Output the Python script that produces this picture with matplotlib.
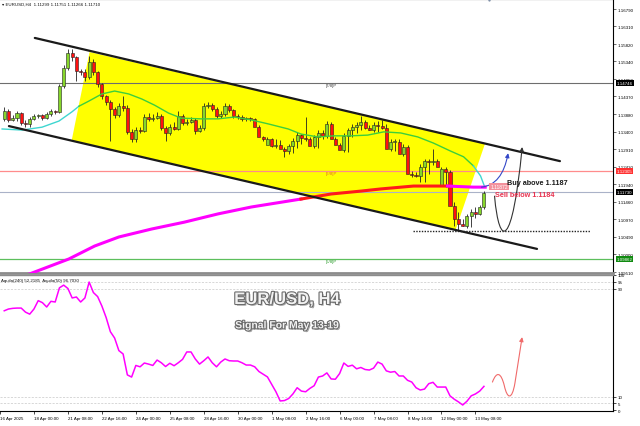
import matplotlib
matplotlib.use("Agg")
import matplotlib.pyplot as plt
from matplotlib.path import Path
from matplotlib.patches import FancyArrowPatch, Polygon
import matplotlib.patheffects as pe

# ---- data (bar index 0 = 18 Apr 00:00, H4 bars) ----
bar_idx = list(range(-7, 107))

opens = [1.1375, 1.1397, 1.1372, 1.1377, 1.1391, 1.1364, 1.1361, 1.1375, 1.1383, 1.1386,
         1.1377, 1.1388, 1.1397, 1.1394, 1.1466, 1.1516, 1.1557, 1.1546, 1.1507, 1.1505,
         1.1491, 1.1532, 1.1505, 1.1471, 1.1438, 1.1422, 1.1402, 1.1386, 1.1410, 1.1405,
         1.1339, 1.1319, 1.1344, 1.1341, 1.1380, 1.1375, 1.1377, 1.1383, 1.1350, 1.1336,
         1.1352, 1.1347, 1.1383, 1.1364, 1.1366, 1.1372, 1.1341, 1.1350, 1.1410, 1.1413,
         1.1402, 1.1383, 1.1388, 1.1410, 1.1399, 1.1383, 1.1380, 1.1375, 1.1377, 1.1375,
         1.1352, 1.1325, 1.1303, 1.1319, 1.1300, 1.1303, 1.1292, 1.1286, 1.1300, 1.1314,
         1.1330, 1.1322, 1.1319, 1.1300, 1.1325, 1.1336, 1.1328, 1.1361, 1.1319, 1.1303,
         1.1289, 1.1328, 1.1344, 1.1352, 1.1358, 1.1366, 1.1350, 1.1344, 1.1358, 1.1355,
         1.1350, 1.1292, 1.1311, 1.1311, 1.1278, 1.1297, 1.1222, 1.1220, 1.1217, 1.1242,
         1.1259, 1.1256, 1.1259, 1.1189, 1.1236, 1.1228, 1.1134, 1.1098, 1.1084, 1.1078,
         1.1106, 1.1117, 1.1112, 1.11299]
highs = [1.1408, 1.1402, 1.1386, 1.1397, 1.1394, 1.1372, 1.1380, 1.1388, 1.1388, 1.1388,
         1.1394, 1.1402, 1.1399, 1.1471, 1.1524, 1.1568, 1.1568, 1.1549, 1.1513, 1.1513,
         1.1549, 1.1541, 1.1507, 1.1474, 1.1441, 1.1427, 1.1408, 1.1419, 1.1438, 1.1413,
         1.1347, 1.1352, 1.1352, 1.1388, 1.1391, 1.1388, 1.1394, 1.1388, 1.1355, 1.1361,
         1.1366, 1.1397, 1.1388, 1.1375, 1.1380, 1.1377, 1.1358, 1.1419, 1.1422, 1.1419,
         1.1408, 1.1397, 1.1419, 1.1416, 1.1402, 1.1388, 1.1386, 1.1380, 1.1380, 1.1377,
         1.1358, 1.1328, 1.1325, 1.1322, 1.1319, 1.1316, 1.1297, 1.1305, 1.1322, 1.1339,
         1.1333, 1.1380, 1.1325, 1.1330, 1.1344, 1.1344, 1.1369, 1.1366, 1.1325, 1.1308,
         1.1336, 1.1350, 1.1361, 1.1366, 1.1383, 1.1372, 1.1358, 1.1366, 1.1369, 1.1372,
         1.1361, 1.1319, 1.1319, 1.1319, 1.1305, 1.1303, 1.1231, 1.1228, 1.1250, 1.1264,
         1.1264, 1.1292, 1.1264, 1.1242, 1.1242, 1.1233, 1.1145, 1.1117, 1.1098, 1.1112,
         1.1125, 1.1131, 1.1137, 1.11751]
lows = [1.1369, 1.1366, 1.1369, 1.1369, 1.1358, 1.1352, 1.1352, 1.1372, 1.1377, 1.1372,
        1.1375, 1.1383, 1.1388, 1.1391, 1.1460, 1.1510, 1.1535, 1.1480, 1.1496, 1.1480,
        1.1485, 1.1496, 1.1463, 1.1430, 1.1413, 1.1314, 1.1377, 1.1380, 1.1397, 1.1333,
        1.1311, 1.1311, 1.1336, 1.1339, 1.1369, 1.1369, 1.1375, 1.1344, 1.1314, 1.1330,
        1.1344, 1.1344, 1.1358, 1.1358, 1.1364, 1.1333, 1.1339, 1.1344, 1.1405, 1.1397,
        1.1377, 1.1377, 1.1383, 1.1394, 1.1377, 1.1375, 1.1369, 1.1369, 1.1369, 1.1369,
        1.1328, 1.1314, 1.1314, 1.1297, 1.1294, 1.1294, 1.1270, 1.1278, 1.1281, 1.1294,
        1.1305, 1.1314, 1.1314, 1.1294, 1.1294, 1.1319, 1.1322, 1.1325, 1.1314, 1.1297,
        1.1283, 1.1283, 1.1325, 1.1336, 1.1344, 1.1347, 1.1344, 1.1339, 1.1339, 1.1347,
        1.1341, 1.1286, 1.1286, 1.1303, 1.1272, 1.1272, 1.1214, 1.1214, 1.1200, 1.1200,
        1.1222, 1.1247, 1.1247, 1.1236, 1.1187, 1.1222, 1.1078, 1.1065, 1.1078, 1.1073,
        1.1076, 1.1101, 1.1109, 1.11266]
closes = [1.1397, 1.1372, 1.1377, 1.1391, 1.1364, 1.1361, 1.1375, 1.1383, 1.1386, 1.1377,
          1.1388, 1.1397, 1.1394, 1.1466, 1.1516, 1.1557, 1.1546, 1.1507, 1.1505, 1.1491,
          1.1532, 1.1505, 1.1471, 1.1438, 1.1422, 1.1402, 1.1386, 1.1410, 1.1405, 1.1339,
          1.1319, 1.1344, 1.1341, 1.1380, 1.1375, 1.1377, 1.1383, 1.1350, 1.1336, 1.1352,
          1.1347, 1.1383, 1.1364, 1.1366, 1.1372, 1.1341, 1.1350, 1.1410, 1.1413, 1.1402,
          1.1383, 1.1388, 1.1410, 1.1399, 1.1383, 1.1380, 1.1375, 1.1377, 1.1375, 1.1352,
          1.1325, 1.1319, 1.1319, 1.1300, 1.1303, 1.1292, 1.1286, 1.1300, 1.1314, 1.1330,
          1.1322, 1.1319, 1.1300, 1.1325, 1.1336, 1.1328, 1.1361, 1.1319, 1.1303, 1.1289,
          1.1328, 1.1344, 1.1352, 1.1358, 1.1366, 1.1350, 1.1344, 1.1358, 1.1355, 1.1350,
          1.1292, 1.1311, 1.1313, 1.1278, 1.1297, 1.1222, 1.1220, 1.1217, 1.1242, 1.1259,
          1.1256, 1.1259, 1.1242, 1.1236, 1.1228, 1.1134, 1.1098, 1.1084, 1.1078, 1.1106,
          1.1117, 1.1112, 1.1131, 1.11710]

# moving averages (bar index, price)
ma20_idx = [-7.5, -2.8, 1.9, 5.9, 8.9, 10.6, 12.9, 16.0, 19.0, 22.3, 25.4, 28.4, 31.7, 34.7,
            39.4, 43.4, 47.2, 51.2, 55.2, 59.9, 62.9, 66.9, 70.7, 74.6, 78.6, 82.4, 86.4,
            90.4, 94.1, 98.1, 101.2, 103.5, 105.2, 106.1]
ma20_val = [1.1347, 1.1344, 1.1352, 1.1369, 1.1394, 1.1410, 1.1424, 1.1444, 1.1452, 1.1444,
            1.1430, 1.1413, 1.1391, 1.1377, 1.1375, 1.1375, 1.1380, 1.1372, 1.1361, 1.1347,
            1.1333, 1.1325, 1.1328, 1.1328, 1.1330, 1.1339, 1.1336, 1.1325, 1.1308, 1.1286,
            1.1270, 1.1245, 1.1217, 1.1189]
ma200_idx = [-7.5, -1.2, 8.2, 14.3, 20.0, 27.7, 35.4, 43.4, 51.2, 62.9, 70.0, 77.0, 81.7,
             89.4, 97.4, 103.5, 106.3]
ma200_val = [1.0915, 1.0945, 1.0987, 1.1023, 1.1048, 1.1070, 1.1089, 1.1112, 1.1131, 1.1153,
             1.1167, 1.1175, 1.1181, 1.1189, 1.1189, 1.1186, 1.1186]

# Aquila oscillator, one value per bar
aquila = [73.5, 74.8, 75.3, 75.5, 75.5, 72.5, 71.0, 74.8, 81.0, 79.5, 76.3, 80.5, 80.0, 90.5,
          92.5, 90.0, 83.0, 83.7, 80.0, 83.0, 94.8, 87.0, 84.0, 77.0, 68.5, 58.0, 53.3, 44.0,
          41.5, 26.0, 24.4, 33.0, 32.0, 34.8, 34.0, 33.0, 37.0, 35.0, 32.2, 34.6, 32.8, 35.0,
          37.5, 43.0, 43.0, 37.8, 34.0, 36.5, 39.3, 35.0, 32.0, 35.5, 37.8, 36.5, 36.3, 36.3,
          35.0, 33.3, 33.3, 32.0, 28.5, 26.5, 24.5, 19.0, 13.5, 6.7, 7.0, 8.5, 11.9, 16.5,
          14.0, 13.5, 16.0, 18.0, 24.4, 25.2, 27.5, 23.0, 22.8, 27.0, 34.8, 32.3, 33.2, 30.5,
          31.5, 30.0, 29.6, 31.0, 35.5, 34.0, 29.0, 28.0, 28.5, 25.2, 25.2, 22.0, 20.7, 16.5,
          14.8, 15.5, 19.5, 20.5, 17.0, 17.0, 17.0, 10.5, 8.0, 6.0, 3.7, 6.5, 10.5, 11.9,
          14.0, 17.5]

# Murrey levels and price markers
level_78, level_68, level_58 = 1.14746, 1.12305, 1.09862
bid_price = 1.11730
ma_label = 1.11872
support = 1.10646
upper_channel = [(0.2, 1.1599), (123.9, 1.1258)]
lower_channel = [(-5.9, 1.1355), (118.5, 1.1015)]
yellow_zone = [(13.1, 1.1560), (8.9, 1.1316), (99.3, 1.1067), (106.3, 1.1308)]

price_ticks = [1.16790, 1.16310, 1.15820, 1.15340, 1.14850, 1.14370, 1.13880, 1.13400,
               1.12910, 1.12420, 1.11940, 1.11460, 1.10970, 1.10490, 1.10000, 1.09510]
time_ticks = [-8, 0, 8, 16, 24, 32, 40, 48, 56, 64, 72, 80, 88, 96, 104]
time_labels = ["16 Apr 2025", "18 Apr 00:00", "21 Apr 08:00", "22 Apr 16:00", "24 Apr 00:00",
               "25 Apr 08:00", "28 Apr 16:00", "30 Apr 00:00", "1 May 08:00", "2 May 16:00",
               "6 May 00:00", "7 May 08:00", "8 May 16:00", "12 May 00:00", "13 May 08:00"]

SMALL = ["Liberation Sans", "DejaVu Sans"]
fs = 3.2

fig = plt.figure(figsize=(6.4, 4.27), dpi=100)
ax = fig.add_axes([0, 1 - 274 / 427, 613 / 640, 274 / 427])
ax2 = fig.add_axes([0, 1 - 412 / 427, 613 / 640, 136 / 427], sharex=ax)

xmin, xmax = -7.51, 136.4
ax.set_xlim(xmin, xmax)
ax.set_ylim(1.09483, 1.17068)

# yellow channel zone + channel lines
ax.add_patch(Polygon(yellow_zone, closed=True, facecolor="#ffff00", edgecolor="none", zorder=0))
for (x0, y0), (x1, y1) in [upper_channel, lower_channel]:
    ax.plot([x0, x1], [y0, y1], color="#1a1a1a", lw=1.6, zorder=4, solid_capstyle="round")

# horizontal levels
ax.axhline(level_78, color="#6e6e6e", lw=0.8, zorder=1)
ax.axhline(level_68, color="#ff8c8c", lw=0.9, zorder=1)
ax.axhline(level_58, color="#5cbf5c", lw=0.9, zorder=1)
ax.axhline(bid_price, color="#aab2c8", lw=0.8, zorder=1)
ax.plot([89.2, 131.0], [support, support], color="#222222", lw=1.0, ls=(0, (1, 1)), zorder=4)

ax.text(70, level_78, "[7/8]P", fontsize=fs, color="#444444", family=SMALL, ha="center", va="top")
ax.text(70, level_68, "[6/8]P", fontsize=fs, color="#e07020", family=SMALL, ha="center", va="top")
ax.text(70, level_58, "[5/8]P", fontsize=fs, color="#2e9e2e", family=SMALL, ha="center", va="top")

# candles
for i, o, h, l, c in zip(bar_idx, opens, highs, lows, closes):
    ax.vlines(i, l, h, color="#222222", lw=0.6, zorder=2)
    up = c >= o
    body = max(abs(c - o), 0.00012)
    ax.bar(i, body, bottom=min(o, c), width=0.72, color="#86d62b" if up else "#ff1010",
           edgecolor="#222222", linewidth=0.4, zorder=2.5)

# moving averages
n_cyan = sum(1 for v in ma20_idx if v <= 9)
ax.plot(ma20_idx[:n_cyan + 1], ma20_val[:n_cyan + 1], color="#3ed6d0", lw=1.0, zorder=3)
ax.plot(ma20_idx[n_cyan:-2], ma20_val[n_cyan:-2], color="#3ccf3c", lw=1.0, zorder=3)
ax.plot(ma20_idx[-3:], ma20_val[-3:], color="#3ed6d0", lw=1.0, zorder=3)
n_red = 9
ax.plot(ma200_idx[:n_red + 1], ma200_val[:n_red + 1], color="#ff00ff", lw=2.2, zorder=3)
ax.plot(ma200_idx[n_red:-2], ma200_val[n_red:-2], color="#ff1a1a", lw=2.2, zorder=3)
ax.plot(ma200_idx[-3:], ma200_val[-3:], color="#ff00ff", lw=2.2, zorder=3)

ax.text(107.5, ma_label, "1.11872", fontsize=3.6, color="white", family=SMALL, va="center",
        ha="left", zorder=6, bbox=dict(boxstyle="square,pad=0.25", fc="#f3919c", ec="none"))

# forecast arrows
blue = Path([(105.4, 1.1186), (110.3, 1.1192), (111.7, 1.1280)],
            [Path.MOVETO, Path.CURVE3, Path.CURVE3])
ax.add_patch(FancyArrowPatch(path=blue, arrowstyle="-|>", mutation_scale=6, color="#3448c8",
                             lw=0.8, zorder=5))
black = Path([(108.5, 1.1161), (109.6, 1.1015), (112.7, 1.1015), (115.0, 1.1297)],
             [Path.MOVETO, Path.CURVE4, Path.CURVE4, Path.CURVE4])
ax.add_patch(FancyArrowPatch(path=black, arrowstyle="-|>", mutation_scale=6, color="#333333",
                             lw=0.8, zorder=5))

ax.text(111.5, 1.1200, "Buy above 1.1187", fontsize=5.2, weight="bold", color="#1a1a1a",
        family=SMALL, va="center", zorder=6)
ax.text(108.7, 1.1165, "Sell below 1.1184", fontsize=5.2, weight="bold", color="#e8324f",
        family=SMALL, va="center", zorder=6)

# header
ax.text(0.003, 0.982, "\u25be EURUSD,H4  1.11299 1.11751 1.11266 1.11710", transform=ax.transAxes,
        fontsize=fs, family=SMALL, va="center", color="#111111")
ax.plot(bar_idx[-1] + 1.3, 1.17068, marker="v", ms=2.5, color="#8090a8", clip_on=False, zorder=6)

# right price axis
ax.yaxis.tick_right()
ax.set_yticks(price_ticks)
ax.set_yticklabels([f"{t:.5f}" for t in price_ticks], fontsize=fs, family=SMALL)
ax.tick_params(axis="y", length=2, width=0.5, pad=1.5, color="#333333")
ax.tick_params(axis="x", bottom=False, labelbottom=False)
for val, fc in [(level_78, "#000000"), (level_68, "#ff3030"), (bid_price, "#000000"),
                (level_58, "#108a10")]:
    ax.text(1.006, val, f"{val:.5f}", transform=ax.get_yaxis_transform(), fontsize=fs,
            color="white", family=SMALL, va="center", ha="left", clip_on=False, zorder=7,
            bbox=dict(boxstyle="square,pad=0.2", fc=fc, ec="none"))

ax.spines["left"].set_visible(False)
ax.spines["right"].set_linewidth(0.8)
ax.spines["top"].set_linewidth(0.8)
ax.spines["bottom"].set_color("#8c8c8c")
ax.spines["bottom"].set_linewidth(2.0)

# ---- indicator panel ----
ax2.set_ylim(-0.74, 100)
ax2.plot(bar_idx, aquila, color="#ff00ff", lw=1.1, zorder=3)
for lv in [95, 90, 10, 5]:
    ax2.axhline(lv, color="#c8c8c8", lw=0.5, ls=(0, (3, 2)), zorder=1)

fc_path = Path([(108.0, 20.7), (109.0, 29.0), (110.0, 28.0), (110.8, 18.0),
                (111.5, 8.0), (112.6, 7.0), (113.3, 20.0),
                (114.0, 33.0), (114.5, 45.0), (115.0, 54.0)],
               [Path.MOVETO, Path.CURVE4, Path.CURVE4, Path.CURVE4,
                Path.CURVE4, Path.CURVE4, Path.CURVE4,
                Path.CURVE4, Path.CURVE4, Path.CURVE4])
ax2.add_patch(FancyArrowPatch(path=fc_path, arrowstyle="-|>", mutation_scale=6, color="#f06a6a",
                              lw=0.8, zorder=4))

ax2.text(0.002, 0.963, "Aquila(240) 52.2185  Aquila(50) 96.7030", transform=ax2.transAxes,
         fontsize=fs, family=SMALL, va="center", color="#111111")

title_fx = [pe.SimplePatchShadow(offset=(1.2, -1.2), shadow_rgbFace="#9a9a9a", alpha=0.9),
            pe.Stroke(linewidth=1.6, foreground="#6a6a6a"), pe.Normal()]
ax2.text(0.468, 0.82, "EUR/USD, H4", transform=ax2.transAxes, fontsize=12, weight="bold",
         family=SMALL, color="#f2f2f2", ha="center", va="center", path_effects=title_fx)
ax2.text(0.468, 0.63, "Signal For May 13-19", transform=ax2.transAxes, fontsize=7.5,
         weight="bold", family=SMALL, color="#f2f2f2", ha="center", va="center",
         path_effects=title_fx)

ax2.yaxis.tick_right()
ax2.set_yticks([0, 5, 10, 90, 95, 100])
ax2.set_yticklabels(["0", "5", "10", "90", "95", "100"], fontsize=fs, family=SMALL)
ax2.tick_params(axis="y", length=2, width=0.5, pad=1.5)
ax2.set_xticks(time_ticks)
ax2.set_xticklabels(time_labels, fontsize=fs, family=SMALL, ha="left")
ax2.tick_params(axis="x", length=2, width=0.5, pad=1.5)
ax2.spines["left"].set_visible(False)
ax2.spines["top"].set_color("#8c8c8c")
ax2.spines["top"].set_linewidth(1.0)
ax2.spines["right"].set_linewidth(0.8)
ax2.spines["bottom"].set_linewidth(0.8)

fig.savefig("out.png", dpi=100)
